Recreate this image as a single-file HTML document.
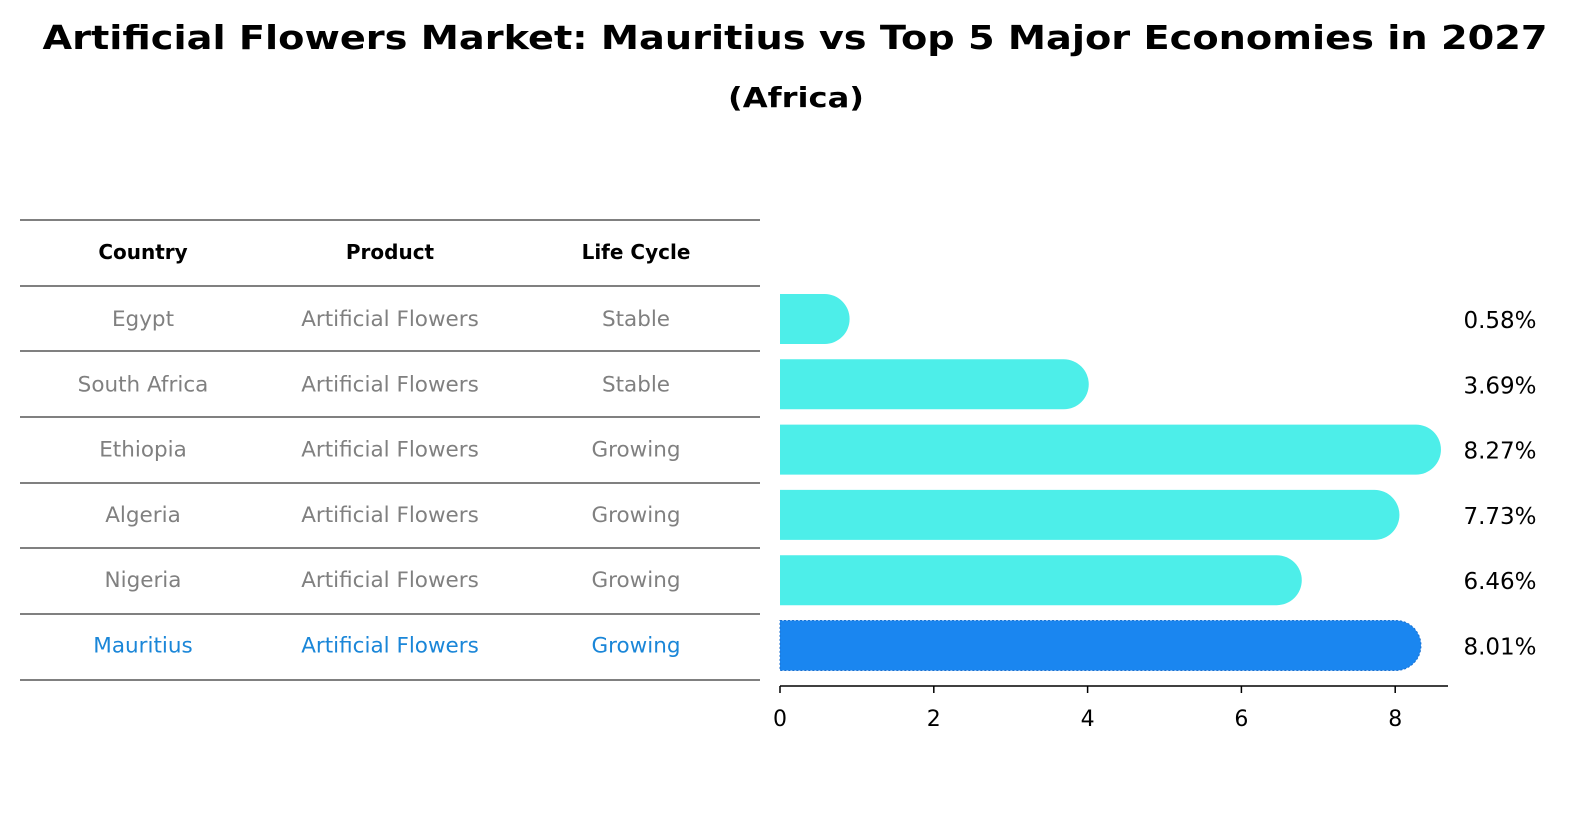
<!DOCTYPE html>
<html><head><meta charset="utf-8"><style>
html,body{margin:0;padding:0;background:#fff;width:1591px;height:823px;overflow:hidden;}
svg{display:block;}
</style></head><body>
<svg width="1591" height="823" xmlns="http://www.w3.org/2000/svg" font-family="'DejaVu Sans', 'Liberation Sans', sans-serif">
<text x="795" y="49" text-anchor="middle" font-size="33" font-weight="bold" textLength="1505" lengthAdjust="spacingAndGlyphs">Artificial Flowers Market: Mauritius vs Top 5 Major Economies in 2027</text>
<text x="796" y="107" text-anchor="middle" font-size="28" font-weight="bold" textLength="136" lengthAdjust="spacingAndGlyphs">(Africa)</text>
<g id="table"></g>
<g id="bars"></g>
</svg>
<script>
const countries=["Egypt","South Africa","Ethiopia","Algeria","Nigeria","Mauritius"];
const products=["Artificial Flowers","Artificial Flowers","Artificial Flowers","Artificial Flowers","Artificial Flowers","Artificial Flowers"];
const lifecycle=["Stable","Stable","Growing","Growing","Growing","Growing"];
const values=[0.58,3.69,8.27,7.73,6.46,8.01];
const ticks=[0,2,4,6,8];
const NS="http://www.w3.org/2000/svg";
function mk(tag,attrs,parent,txt){const e=document.createElementNS(NS,tag);for(const k in attrs)e.setAttribute(k,attrs[k]);if(txt!==undefined)e.textContent=txt;parent.appendChild(e);return e;}
const tbl=document.getElementById('table'),bars=document.getElementById('bars');
const x0=780,ppu=76.9;
const xs=v=>x0+v*ppu;
const rowY=i=>319+i*65.3;
const lineY=[220,286,351,417,483,548,614,680];
lineY.forEach(y=>{const l=mk('line',{x1:20,x2:760,y1:y,y2:y,stroke:'#000','stroke-width':1},tbl);

});
const cols=[143,390,636];
["Country","Product","Life Cycle"].forEach((h,j)=>{const t=mk('text',{x:cols[j],y:259,'text-anchor':'middle','font-size':20,'font-weight':'bold'},tbl,h);

});
countries.forEach((c,i)=>{
 const col=i===countries.length-1?'#1a86d8':'#808080';
 [c,products[i],lifecycle[i]].forEach((v,j)=>{const t=mk('text',{x:cols[j],y:rowY(i)+7,'text-anchor':'middle','font-size':21.5,fill:col},tbl,v);
 
 });
 const y=rowY(i),h=50,r=25,xe=xs(values[i]);
 const hl=i===countries.length-1;
 const p=mk('path',{d:`M${x0} ${y-h/2} H${xe} A${r} ${r} 0 0 1 ${xe} ${y+h/2} H${x0} Z`,fill:hl?'#1a86f0':'#4deee9',stroke:hl?'#1a70d0':'none','stroke-dasharray':hl?'2 2':'', 'stroke-width':1},bars);
 
 
 const t=mk('text',{x:1500,y:y+9,'text-anchor':'middle','font-size':23},bars,values[i].toFixed(2)+'%');
 
 
});
const ax=mk('line',{x1:x0,x2:1448,y1:686,y2:686,stroke:'#000','stroke-width':1.5},bars);


ticks.forEach(v=>{const l=mk('line',{x1:xs(v),x2:xs(v),y1:686,y2:693,stroke:'#000','stroke-width':1.5},bars);


const t=mk('text',{x:xs(v),y:726,'text-anchor':'middle','font-size':22},bars,String(v));

});
</script>
</body></html>
